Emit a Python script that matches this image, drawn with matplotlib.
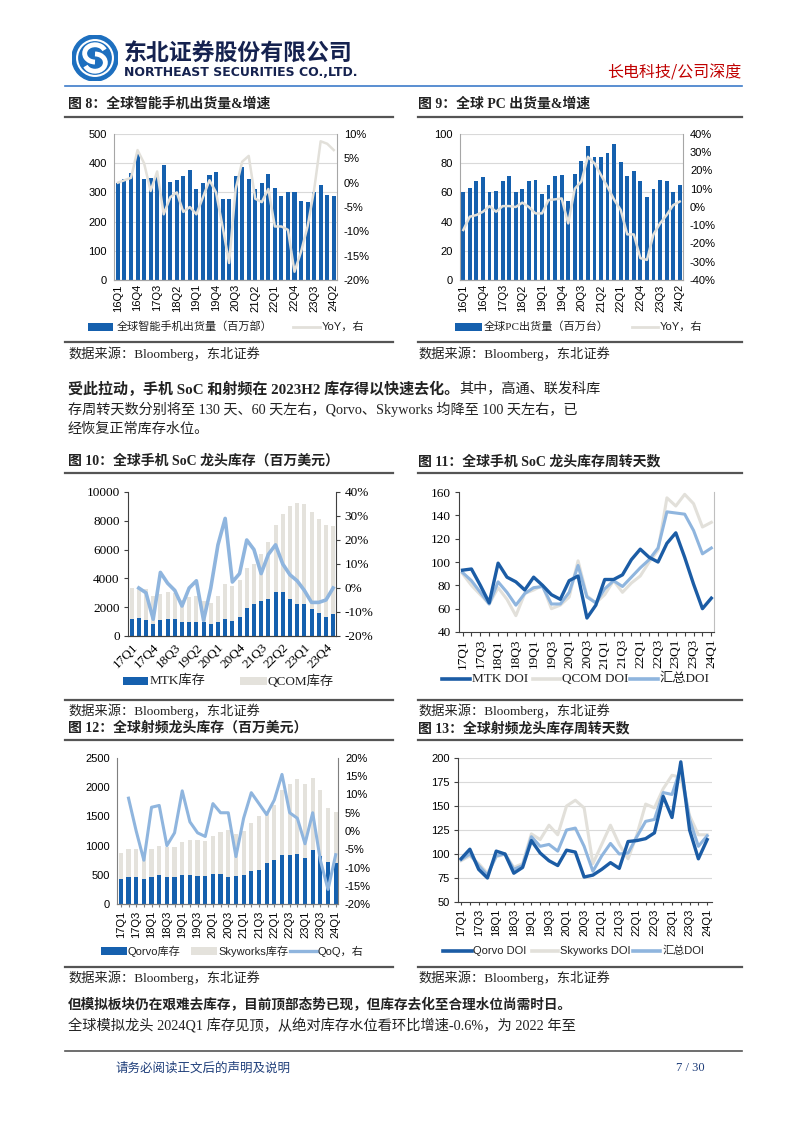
import numpy as np
import matplotlib.pyplot as plt
from matplotlib.lines import Line2D
from matplotlib.patches import Rectangle, Circle, Arc

W, H = 802, 1133
CJK = 'Noto Sans CJK SC'
SERIF = ['Liberation Serif', CJK]
SANS = ['Liberation Sans', CJK]
plt.rcParams['font.family'] = SANS

DARK = '#1560ae'
GRAY = '#e4e2dc'
LBLUE = '#8fb5de'
YOYGRAY = '#e2e0da'
TXT = '#222222'

q16 = [f'{y}Q{q}' for y in range(16, 25) for q in range(1, 5)][:34]
q17 = [f'{y}Q{q}' for y in range(17, 25) for q in range(1, 5)][:29]

# fig 8: smartphone shipments (mn) and yoy (%)
phone_units = [333, 347, 365, 430, 345, 348, 358, 395, 336, 343, 357, 377, 312, 333, 358, 370, 276,
               279, 355, 386, 346, 313, 332, 363, 315, 287, 302, 301, 270, 267, 303, 327, 290, 286]
phone_yoy = [0, 0.5, 1, 6.7, 4, -1.7, 2.3, -6.5, -3, -2, -6, -5, -6.5, -3, 0.5, -2, -9,
             -16.5, -1.3, 4.3, 5.5, -3.3, -4, -1.3, -9, -9, -9.7, -18.3, -14.2, -9, -1.5, 8.5, 8, 6.7]

# fig 9: PC shipments (mn) and yoy (%)
pc_units = [60.5, 63, 68, 70.5, 60.5, 61, 68, 71, 60.5, 62.5, 68, 68.5, 59, 65, 71, 72, 54,
            72.5, 81.5, 92, 84.5, 84, 87, 93, 80.5, 71, 74.5, 67.5, 57, 62, 68.5, 67.5, 60, 65]
pc_yoy = [-12.6, -5.3, -4.4, -2.6, 0.5, -2.6, 0.5, 0.5, 0, 2.4, 0, -3.5, -3.5, 3.8, 4.2, 4.7, -9,
          10, 14, 27.5, 24, 17.5, 11, 4, -1.6, -15, -15, -28, -29, -15, -9, -4.4, 1, 3]

# fig 10: SoC inventory ($mn) and qoq (%)
mtk_inv = [1200, 1250, 1100, 850, 1100, 1150, 1200, 950, 950, 950, 950, 850, 1000, 1200, 1050,
           1300, 1950, 2250, 2450, 2600, 3050, 3050, 2600, 2250, 2250, 1900, 1600, 1350, 1500]
qcom_inv = [3300, 3300, 3250, 2800, 2950, 3050, 3000, 2500, 2700, 2800, 2400, 2300, 2800, 3600, 3450,
            3900, 4700, 5000, 5700, 6500, 7700, 8500, 9000, 9250, 9150, 8600, 8100, 7700, 7650]
soc_qoq = [np.nan, 0, -2, -13, 6.5, 2, -1, -7.5, 0, 3, -13.5, 0, 18, 29, 2.5, 6, 20, 16, 6, 14,
           18, 10, 5.5, 3, -1, -6, -6, -5, 0]

# fig 11: SoC DOI
mtk_doi = [93, 94, 80, 65, 99, 87, 83, 76, 87, 80, 72, 68, 84, 88, 52, 63, 85, 85, 89, 102,
           111, 104, 100, 116, 125, 104, 81, 60, 69]
qcom_doi = [90, 80, 72, 64, 78, 68, 54, 73, 76, 80, 60, 63, 70, 101, 71, 65, 72, 84, 74, 82,
            88, 100, 110, 155, 148, 158, 150, 130, 134]
soc_doi = [91, 84, 74, 64, 83, 74, 63, 73, 78, 79, 64, 64, 74, 97, 70, 65, 77, 84, 79, 87,
           95, 102, 112, 143, 142, 141, 127, 107, 112]

# fig 12: RF inventory ($mn) and qoq (%)
qorvo_inv = [430, 460, 460, 420, 460, 490, 470, 460, 505, 505, 475, 475, 510, 520, 470, 475, 495,
             560, 590, 700, 750, 840, 840, 855, 790, 920, 830, 720, 700]
sky_inv = [880, 950, 950, 830, 940, 1000, 980, 970, 1070, 1100, 1100, 1080, 1170, 1230, 1270, 1200,
           1250, 1390, 1500, 1600, 1700, 1960, 2050, 2140, 2050, 2160, 1950, 1650, 1570]
rf_qoq = [np.nan, 9, 0, -8, 6.5, 7, -4, -0.5, 11, 2.5, -0.5, -1.5, 7.5, 5, 5, -7, 3.5, 10.5, 7.5,
          4.5, 8.5, 15.5, 5, 3.5, -3.5, 5, -8, -16, -6.5]

# fig 13: RF DOI
qorvo_doi = [95, 105, 84, 75, 103, 100, 80, 86, 114, 101, 93, 88, 104, 102, 76, 78, 84, 91, 85,
             113, 114, 116, 122, 160, 138, 196, 125, 95, 115]
sky_doi = [93, 98, 90, 80, 97, 100, 86, 90, 121, 115, 130, 120, 150, 156, 148, 90, 110, 130, 110,
           95, 120, 152, 148, 168, 182, 180, 140, 120, 120]
rf_doi = [94, 100, 88, 78, 98, 100, 84, 88, 118, 108, 110, 103, 125, 127, 108, 82, 98, 111, 100,
          101, 118, 134, 136, 164, 162, 190, 136, 108, 119]

fig = plt.figure(figsize=(W / 100, H / 100), dpi=100)


def fx(x):
    return x / W


def fy(y):
    return 1 - y / H


def box(l, t, r, b):
    return fig.add_axes([fx(l), fy(b), (r - l) / W, (b - t) / H])


def put(x, y, s, size=9, family=SERIF, **kw):
    kw.setdefault('va', 'center')
    kw.setdefault('color', TXT)
    return fig.text(fx(x), fy(y), s, fontsize=size, family=family, **kw)


def rule(x0, x1, y, color='#555555', lw=1.6):
    fig.add_artist(Line2D([fx(x0), fx(x1)], [fy(y), fy(y)], color=color, lw=lw))


def key_bar(x0, x1, y, color, h=8):
    fig.add_artist(Rectangle((fx(x0), fy(y + h / 2)), (x1 - x0) / W, h / H, color=color, lw=0))


def key_line(x0, x1, y, color, lw=2.2):
    fig.add_artist(Line2D([fx(x0), fx(x1)], [fy(y), fy(y)], color=color, lw=lw))


def pct(vals):
    return [f'{v:.0f}%' for v in vals]


def spines(ax, left=True, right=False, color='#a6a6a6'):
    ax.spines['top'].set_visible(False)
    ax.spines['right'].set_visible(right)
    ax.spines['left'].set_visible(left)
    for s in ('left', 'right', 'bottom'):
        ax.spines[s].set_color(color)
        ax.spines[s].set_linewidth(0.8)


# ---------------- header ----------------
logo = box(72, 35, 118, 81)
logo.set_xlim(-1, 1)
logo.set_ylim(-1, 1)
logo.set_aspect('equal')
logo.axis('off')
logo.add_patch(Circle((0, 0), 1, color='#1d6fbf'))
logo.add_patch(Circle((0, 0), 0.78, fill=False, ec='white', lw=1.5))
logo.add_patch(Arc((0, 0.2), 0.9, 0.75, theta1=20, theta2=270, color='white', lw=3.5))
logo.add_patch(Arc((0, -0.2), 0.9, 0.75, theta1=200, theta2=450, color='white', lw=3.5))

put(124, 53, '东北证券股份有限公司', size=16.5, family=[CJK], weight='bold', color='#15224f')
put(124, 73, 'NORTHEAST SECURITIES CO.,LTD.', size=9, family=['DejaVu Sans'], weight='bold',
    color='#15224f')
put(741, 73, '长电科技/公司深度', size=11.5, family=[CJK], color='#c00000', ha='right')
rule(65, 742, 86, color='#3d7cc9', lw=1.2)

# ---------------- titles / sources ----------------
put(68, 104, '图 8：全球智能手机出货量&增速', size=10, weight='bold')
put(418, 104, '图 9：全球 PC 出货量&增速', size=10, weight='bold')
rule(65, 393, 117)
rule(418, 742, 117)
rule(65, 393, 342)
rule(418, 742, 342)
put(68, 354, '数据来源：Bloomberg，东北证券', size=9.5)
put(418, 354, '数据来源：Bloomberg，东北证券', size=9.5)

lead = put(68, 389, '受此拉动，手机 SoC 和射频在 2023H2 库存得以快速去化。', size=10.8, weight='bold')
lead_end = lead.get_window_extent(renderer=fig.canvas.get_renderer()).x1
put(lead_end, 389, '其中，高通、联发科库', size=10.2)
put(68, 409, '存周转天数分别将至 130 天、60 天左右，Qorvo、Skyworks 均降至 100 天左右，已', size=10.2)
put(68, 429, '经恢复正常库存水位。', size=10.2)

put(68, 461, '图 10：全球手机 SoC 龙头库存（百万美元）', size=10, weight='bold')
put(418, 461, '图 11：全球手机 SoC 龙头库存周转天数', size=10, weight='bold')
rule(65, 393, 473)
rule(418, 742, 473)
rule(65, 393, 700)
rule(418, 742, 700)
put(68, 711, '数据来源：Bloomberg，东北证券', size=9.5)
put(418, 711, '数据来源：Bloomberg，东北证券', size=9.5)

put(68, 728, '图 12：全球射频龙头库存（百万美元）', size=10, weight='bold')
put(418, 728, '图 13：全球射频龙头库存周转天数', size=10, weight='bold')
rule(65, 393, 740)
rule(418, 742, 740)
rule(65, 393, 967)
rule(418, 742, 967)
put(68, 978, '数据来源：Bloomberg，东北证券', size=9.5)
put(418, 978, '数据来源：Bloomberg，东北证券', size=9.5)

put(68, 1005, '但模拟板块仍在艰难去库存，目前顶部态势已现，但库存去化至合理水位尚需时日。', size=9.8,
    weight='bold')
put(68, 1026, '全球模拟龙头 2024Q1 库存见顶，从绝对库存水位看环比增速-0.6%，为 2022 年至', size=10.3)

rule(65, 742, 1051, color='#555555', lw=1.2)
put(115, 1068, '请务必阅读正文后的声明及说明', size=9, family=[CJK], color='#1f3e7a')
put(705, 1068, '7 / 30', size=9, ha='right', color='#1f3e7a')

# ---------------- fig 8 ----------------
x = np.arange(len(phone_units))
ax = box(114, 134, 337, 280)
ax.bar(x, phone_units, width=0.62, color=DARK, zorder=2)
ax.set_xlim(-0.6, 33.5)
ax.set_ylim(0, 500)
ax.set_yticks(range(0, 501, 100))
ax.set_yticklabels([str(v) for v in range(0, 501, 100)], fontsize=8)
ax.set_xticks(x[::3])
ax.set_xticklabels(q16[::3], rotation=90, fontsize=8)
ax.grid(axis='y', color='#d9d9d9', lw=0.8)
ax.set_axisbelow(True)
ax.tick_params(axis='x', length=0, pad=3)
ax.tick_params(axis='y', length=0, pad=5)
spines(ax)
ax2 = ax.twinx()
ax2.plot(x, phone_yoy, color=YOYGRAY, lw=1.8)
ax2.set_ylim(-20, 10)
ax2.set_yticks(range(-20, 11, 5))
ax2.set_yticklabels(pct(range(-20, 11, 5)), fontsize=8)
ax2.tick_params(axis='y', length=0, pad=5)
spines(ax2, left=False, right=True)
key_bar(88, 113, 327, DARK)
put(117, 327, '全球智能手机出货量（百万部）', size=8)
key_line(293, 320, 327, YOYGRAY, lw=2)
put(322, 327, 'YoY，右', size=8, family=SANS)

# ---------------- fig 9 ----------------
x = np.arange(len(pc_units))
ax = box(460, 134, 683, 280)
ax.bar(x, pc_units, width=0.58, color=DARK, zorder=2)
ax.set_xlim(-0.5, 33.5)
ax.set_ylim(0, 100)
ax.set_yticks(range(0, 101, 20))
ax.set_yticklabels([str(v) for v in range(0, 101, 20)], fontsize=8)
ax.set_xticks(x[::3])
ax.set_xticklabels(q16[::3], rotation=90, fontsize=8)
ax.grid(axis='y', color='#d9d9d9', lw=0.8)
ax.set_axisbelow(True)
ax.tick_params(axis='x', length=0, pad=3)
ax.tick_params(axis='y', length=0, pad=5)
spines(ax)
ax2 = ax.twinx()
ax2.plot(x, pc_yoy, color=YOYGRAY, lw=1.8)
ax2.set_ylim(-40, 40)
ax2.set_yticks(range(-40, 41, 10))
ax2.set_yticklabels(pct(range(-40, 41, 10)), fontsize=8)
ax2.tick_params(axis='y', length=0, pad=5)
spines(ax2, left=False, right=True)
key_bar(455, 482, 327, DARK)
put(484, 327, '全球PC出货量（百万台）', size=8)
key_line(632, 658, 327, YOYGRAY, lw=2)
put(660, 327, 'YoY，右', size=8, family=SANS)

# ---------------- fig 10 ----------------
x = np.arange(len(mtk_inv))
ax = box(128, 492, 336, 636)
ax.bar(x, qcom_inv, width=0.55, color=GRAY, zorder=1)
ax.bar(x, mtk_inv, width=0.55, color=DARK, zorder=2)
ax.set_xlim(-0.5, 28.4)
ax.set_ylim(0, 10000)
ax.set_yticks(range(0, 10001, 2000))
ax.set_yticklabels([str(v) for v in range(0, 10001, 2000)], fontsize=9.5, family=SERIF)
ax.set_xticks(x[::3])
ax.set_xticklabels(q17[::3], rotation=45, ha='right', rotation_mode='anchor', fontsize=9.5,
                   family=SERIF)
ax.tick_params(axis='x', length=0, pad=4)
ax.tick_params(axis='y', length=3, width=0.8, color='#404040', pad=3)
spines(ax, color='#404040')
ax2 = ax.twinx()
ax2.plot(x, soc_qoq, color=LBLUE, lw=2.6)
ax2.set_ylim(-20, 40)
ax2.set_yticks(range(-20, 41, 10))
ax2.set_yticklabels(pct(range(-20, 41, 10)), fontsize=9.5, family=SERIF)
ax2.tick_params(axis='y', length=3, width=0.8, color='#404040', pad=3)
spines(ax2, left=False, right=True, color='#404040')
key_bar(123, 148, 681, DARK)
put(150, 681, 'MTK库存', size=9.5)
key_bar(240, 267, 681, GRAY)
put(268, 681, 'QCOM库存', size=9.5)

# ---------------- fig 11 ----------------
x = np.arange(len(mtk_doi))
ax = box(459, 492, 714, 632)
ax.plot(x, qcom_doi, color=YOYGRAY, lw=2.2)
ax.plot(x, soc_doi, color=LBLUE, lw=2.2)
ax.plot(x, mtk_doi, color='#1b5ca5', lw=2.4)
ax.set_xlim(-0.4, 28.3)
ax.set_ylim(40, 160)
ax.set_yticks(range(40, 161, 20))
ax.set_yticklabels([str(v) for v in range(40, 161, 20)], fontsize=9.5, family=SERIF)
ax.set_xticks(x[::2])
ax.set_xticklabels(q17[::2], rotation=90, fontsize=9.5, family=SERIF)
ax.set_xticks(x, minor=True)
ax.tick_params(axis='x', which='both', length=3, width=0.8, color='#404040', pad=2)
ax.tick_params(axis='y', length=3, width=0.8, color='#404040', pad=3)
spines(ax, right=True, color='#404040')
ax.spines['right'].set_color('#bfbfbf')
key_line(442, 470, 679, '#1b5ca5', lw=2.6)
put(472, 679, 'MTK DOI', size=9.5)
key_line(533, 560, 679, YOYGRAY, lw=2.6)
put(562, 679, 'QCOM DOI', size=9.5)
key_line(630, 658, 679, LBLUE, lw=2.6)
put(660, 679, '汇总DOI', size=9.5)

# ---------------- fig 12 ----------------
x = np.arange(len(qorvo_inv))
ax = box(117, 758, 338, 904)
ax.bar(x, sky_inv, width=0.55, color=GRAY, zorder=1)
ax.bar(x, qorvo_inv, width=0.55, color=DARK, zorder=2)
ax.set_xlim(-0.5, 28.3)
ax.set_ylim(0, 2500)
ax.set_yticks(range(0, 2501, 500))
ax.set_yticklabels([str(v) for v in range(0, 2501, 500)], fontsize=8)
ax.set_xticks(x[::2])
ax.set_xticklabels(q17[::2], rotation=90, fontsize=8)
ax.set_xticks(x, minor=True)
ax.tick_params(axis='x', which='both', length=2.5, width=0.8, color='#7f7f7f', pad=2)
ax.tick_params(axis='y', length=0, pad=5)
spines(ax, color='#7f7f7f')
ax2 = ax.twinx()
ax2.plot(x, rf_qoq, color=LBLUE, lw=2.2)
ax2.set_ylim(-20, 20)
ax2.set_yticks(range(-20, 21, 5))
ax2.set_yticklabels(pct(range(-20, 21, 5)), fontsize=8)
ax2.tick_params(axis='y', length=0, pad=5)
spines(ax2, left=False, right=True, color='#7f7f7f')
key_bar(101, 127, 951, DARK)
put(128, 951, 'Qorvo库存', size=8, family=SANS)
key_bar(191, 217, 951, GRAY)
put(218, 951, 'Skyworks库存', size=8, family=SANS)
key_line(290, 317, 951, LBLUE, lw=2.4)
put(318, 951, 'QoQ，右', size=8, family=SANS)

# ---------------- fig 13 ----------------
x = np.arange(len(qorvo_doi))
ax = box(458, 758, 712, 902)
ax.plot(x, sky_doi, color=YOYGRAY, lw=2.2, zorder=2)
ax.plot(x, rf_doi, color=LBLUE, lw=2.2, zorder=3)
ax.plot(x, qorvo_doi, color='#1b5ca5', lw=2.4, zorder=4)
ax.set_xlim(-0.35, 28.55)
ax.set_ylim(50, 200)
ax.set_yticks(range(50, 201, 25))
ax.set_yticklabels([str(v) for v in range(50, 201, 25)], fontsize=8)
ax.set_xticks(x[::2])
ax.set_xticklabels(q17[::2], rotation=90, fontsize=8)
ax.set_xticks(x, minor=True)
ax.grid(axis='y', color='#d9d9d9', lw=0.8)
ax.set_axisbelow(True)
ax.tick_params(axis='x', which='both', length=2.5, width=0.8, color='#404040', pad=2)
ax.tick_params(axis='y', length=3, width=0.8, color='#404040', pad=3)
spines(ax, color='#404040')
key_line(443, 472, 951, '#1b5ca5', lw=2.6)
put(473, 951, 'Qorvo DOI', size=8, family=SANS)
key_line(532, 558, 951, YOYGRAY, lw=2.6)
put(560, 951, 'Skyworks DOI', size=8, family=SANS)
key_line(633, 660, 951, LBLUE, lw=2.6)
put(662, 951, '汇总DOI', size=8, family=SANS)

fig.savefig('out.png', dpi=100)
